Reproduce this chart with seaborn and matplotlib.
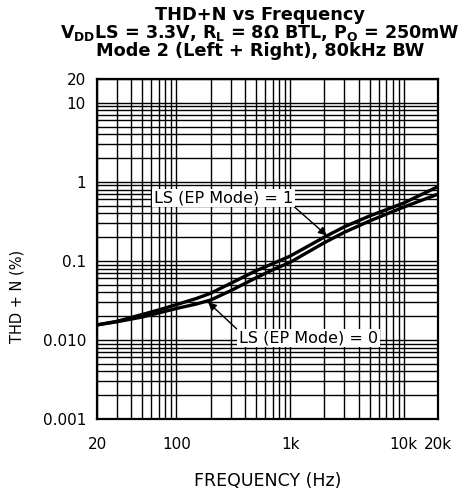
import numpy as np
import pandas as pd
import matplotlib
matplotlib.use("Agg")
import matplotlib.pyplot as plt
import seaborn as sns
from matplotlib.ticker import FixedLocator, FixedFormatter, LogLocator, NullFormatter

freq_hz = [20, 30, 50, 70, 100, 150, 200, 300, 500, 700, 1000, 2000, 3000, 5000, 10000, 20000]
thd_ls1 = [0.0155, 0.0172, 0.0210, 0.0240, 0.0280, 0.0335, 0.039, 0.052, 0.075, 0.092, 0.115, 0.20, 0.27, 0.37, 0.54, 0.87]
thd_ls0 = [0.0155, 0.0170, 0.0195, 0.0220, 0.0250, 0.0285, 0.032, 0.042, 0.061, 0.077, 0.096, 0.17, 0.23, 0.32, 0.48, 0.70]

y_ticks = [0.001, 0.01, 0.1, 1, 10, 20]
y_tick_labels = ["0.001", "0.010", "0.1", "1", "10", "20"]
x_ticks = [20, 100, 1000, 10000, 20000]
x_tick_labels = ["20", "100", "1k", "10k", "20k"]

df = pd.DataFrame({
    "freq": freq_hz * 2,
    "thd": thd_ls1 + thd_ls0,
    "mode": ["LS (EP Mode) = 1"] * len(freq_hz) + ["LS (EP Mode) = 0"] * len(freq_hz),
})

sns.set_style("white")
plt.rcParams["font.family"] = ["DejaVu Sans"]
plt.rcParams["text.color"] = "black"
plt.rcParams["axes.labelcolor"] = "black"
plt.rcParams["xtick.color"] = "black"
plt.rcParams["ytick.color"] = "black"
plt.rcParams["mathtext.fontset"] = "custom"
plt.rcParams["mathtext.rm"] = "DejaVu Sans:bold"
plt.rcParams["mathtext.bf"] = "DejaVu Sans:bold"

fig = plt.figure(figsize=(4.73, 4.98), dpi=100)
ax = fig.add_axes([97 / 473, 1 - 419 / 498, 341 / 473, 340 / 498])

ax.set_xscale("log")
ax.set_yscale("log")
ax.set_xlim(20, 20000)
ax.set_ylim(0.001, 20)

ax.xaxis.set_minor_locator(LogLocator(base=10, subs=np.arange(2, 10)))
ax.yaxis.set_minor_locator(LogLocator(base=10, subs=np.arange(2, 10)))
ax.xaxis.set_minor_formatter(NullFormatter())
ax.yaxis.set_minor_formatter(NullFormatter())
ax.grid(True, which="both", color="black", linewidth=1.0)
ax.set_axisbelow(True)

sns.lineplot(data=df, x="freq", y="thd", hue="mode", palette=["black", "black"],
             linewidth=2.4, legend=False, ax=ax, zorder=3)

ax.xaxis.set_major_locator(FixedLocator(x_ticks))
ax.xaxis.set_major_formatter(FixedFormatter(x_tick_labels))
ax.yaxis.set_major_locator(FixedLocator(y_ticks))
ax.yaxis.set_major_formatter(FixedFormatter(y_tick_labels))
ax.tick_params(axis="both", which="both", length=0, labelsize=11)
ax.tick_params(axis="x", pad=13)
ax.tick_params(axis="y", pad=8)

for s in ax.spines.values():
    s.set_color("black")
    s.set_linewidth(1.6)

ax.set_xlabel("FREQUENCY (Hz)", fontsize=12.5)
ax.set_ylabel("THD + N (%)", fontsize=10.5)
ax.xaxis.set_label_coords(0.5, -0.157)
ax.yaxis.set_label_coords(-0.213, 0.36)

bbox = dict(boxstyle="square,pad=0.12", fc="white", ec="none")
ax.annotate("LS (EP Mode) = 1", xy=(2100, 0.21), xytext=(0.37, 0.65),
            textcoords="axes fraction", ha="center", va="center", fontsize=11.5, bbox=bbox,
            arrowprops=dict(arrowstyle="-|>", color="black", lw=1.0, mutation_scale=12,
                            shrinkA=0, shrinkB=0, relpos=(1.0, 0.0)), zorder=5)
ax.annotate("LS (EP Mode) = 0", xy=(190, 0.030), xytext=(0.619, 0.238),
            textcoords="axes fraction", ha="center", va="center", fontsize=11.5, bbox=bbox,
            arrowprops=dict(arrowstyle="-|>", color="black", lw=1.0, mutation_scale=12,
                            shrinkA=0, shrinkB=0, relpos=(0.0, 1.0)), zorder=5)

cx = 260 / 473
fig.text(cx, 1 - 15 / 498, "THD+N vs Frequency", ha="center", va="center",
         fontsize=12.8, fontweight="bold")
fig.text(cx, 1 - 33 / 498,
         r"V$_\mathrm{DD}$LS = 3.3V, R$_\mathrm{L}$ = 8Ω BTL, P$_\mathrm{O}$ = 250mW",
         ha="center", va="center", fontsize=12.6, fontweight="bold")
fig.text(cx, 1 - 51 / 498, "Mode 2 (Left + Right), 80kHz BW", ha="center", va="center",
         fontsize=12.8, fontweight="bold")

fig.savefig("out.png", dpi=100)
